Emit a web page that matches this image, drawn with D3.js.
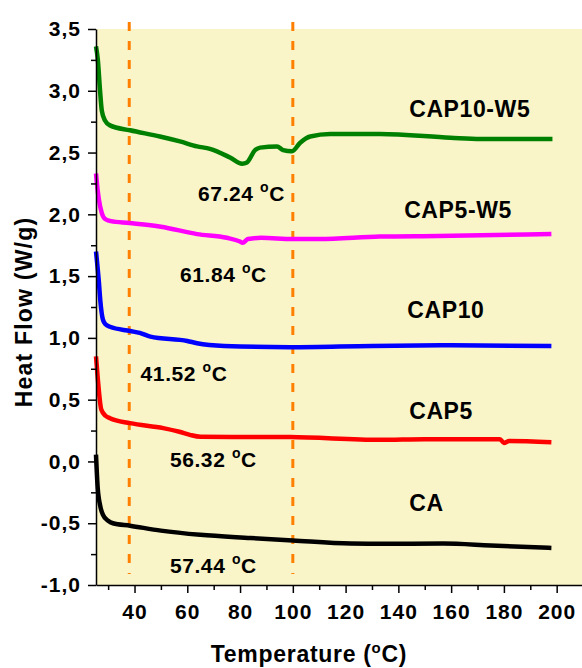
<!DOCTYPE html>
<html>
<head>
<meta charset="utf-8">
<script src="https://cdn.jsdelivr.net/npm/d3@7"></script>
<style>
    body { margin: 0; background: #ffffff; }
    svg { display: block; font-family: "Liberation Sans", Arial, sans-serif; font-weight: bold; }
</style>
</head>
<body>
<svg id="chart" width="582" height="668"></svg>
<script>
//Tick values
let xTicks = [40, 60, 80, 100, 120, 140, 160, 180, 200];
let xMinor = [30, 50, 70, 90, 110, 130, 150, 170, 190];
let yTicks = [-1.0, -0.5, 0.0, 0.5, 1.0, 1.5, 2.0, 2.5, 3.0, 3.5];
let yMinor = [-0.75, -0.25, 0.25, 0.75, 1.25, 1.75, 2.25, 2.75, 3.25];

//Series (temperature in °C, heat flow in W/g)
let caT = [25.4, 26.0, 27.0, 28.0, 30.0, 31.8, 38.3, 50.0, 64.9, 84.0, 100.0, 122.0, 133.0, 157.0, 175.0, 198.0];
let caV = [0.055, -0.20, -0.36, -0.43, -0.48, -0.50, -0.52, -0.56, -0.594, -0.62, -0.64, -0.665, -0.667, -0.665, -0.68, -0.70];

let cap5T = [25.4, 26.0, 27.4, 29.0, 30.7, 38.3, 50.9, 57.0, 61.0, 65.0, 99.0, 133.0, 150.0, 178.5, 180.0, 182.0, 198.0];
let cap5V = [0.85, 0.69, 0.42, 0.37, 0.35, 0.31, 0.27, 0.24, 0.215, 0.20, 0.197, 0.175, 0.18, 0.18, 0.15, 0.165, 0.156];

let cap10T = [25.4, 26.5, 27.0, 28.0, 29.0, 30.7, 38.3, 42.0, 46.0, 60.0, 63.7, 74.0, 99.0, 130.0, 160.0, 198.0];
let cap10V = [1.70, 1.45, 1.31, 1.15, 1.11, 1.09, 1.056, 1.04, 1.01, 0.975, 0.957, 0.935, 0.925, 0.935, 0.94, 0.935];

let cap5w5T = [25.4, 26.0, 26.5, 27.6, 29.0, 31.0, 38.0, 50.0, 63.7, 75.0, 80.0, 81.0, 83.0, 88.0, 100.0, 110.0, 133.0, 155.0, 198.0];
let cap5w5V = [2.33, 2.20, 2.12, 2.01, 1.96, 1.945, 1.93, 1.90, 1.84, 1.81, 1.78, 1.77, 1.80, 1.81, 1.80, 1.80, 1.82, 1.825, 1.84];

let cap10w5T = [25.4, 26.1, 26.9, 27.6, 28.8, 30.7, 38.3, 49.6, 57.2, 63.7, 68.6, 76.2, 80.8, 82.6, 85.7, 87.6, 94.0, 96.3, 99.7, 102.8, 106.6, 114.2, 133.1, 159.7, 171.1, 198.4];
let cap10w5V = [3.36, 3.25, 3.01, 2.84, 2.76, 2.72, 2.68, 2.63, 2.59, 2.55, 2.53, 2.46, 2.41, 2.42, 2.52, 2.54, 2.55, 2.52, 2.51, 2.58, 2.63, 2.65, 2.65, 2.62, 2.61, 2.61];

//Sample names and transition temperatures
let names = ['CA', 'CAP5', 'CAP10', 'CAP5-W5', 'CAP10-W5'];
let tgLabels = ['57.44', '56.32', '41.52', '61.84', '67.24'];
let markerTemps = [38, 100];

//Annotation anchors in data space (°C, W/g)
let nameAnchors = [[144.1, -0.40], [144.1, 0.345], [143.4, 1.162], [142.2, 1.971], [144.1, 2.788]];
let tgAnchors = [[53.4, -0.904], [53.4, -0.049], [42.3, 0.652], [57.2, 1.455], [64.1, 2.111]];

let svg = d3.select('#chart');
let margin = {top: 29, right: 0, bottom: 83, left: 96};
let width = 582;
let height = 668;

let x = d3.scaleLinear()
    .domain([25.4, 209.6])
    .range([margin.left, width - margin.right]);

let y = d3.scaleLinear()
    .domain([-1.0, 3.5])
    .range([height - margin.bottom, margin.top]);

let colors = ['#000000', '#ff0000', '#0000ff', '#ff00ff', '#008000'];

let series = [
    {T: caT, V: caV},
    {T: cap5T, V: cap5V},
    {T: cap10T, V: cap10V},
    {T: cap5w5T, V: cap5w5V},
    {T: cap10w5T, V: cap10w5V}
].map((s, i) => ({name: names[i], color: colors[i], points: s.T.map((t, j) => [t, s.V[j]])}));

//Plot background
svg.append('rect')
    .attr('x', x.range()[0])
    .attr('y', y.range()[1])
    .attr('width', x.range()[1] - x.range()[0])
    .attr('height', y.range()[0] - y.range()[1])
    .attr('fill', '#faf5c9');

//Dashed markers
svg.append('g')
    .selectAll('line')
    .data(markerTemps)
    .join('line')
    .attr('x1', d => x(d))
    .attr('x2', d => x(d))
    .attr('y1', y(3.5) - 7)
    .attr('y2', y(-1.0) - 11)
    .attr('stroke', '#ff8000')
    .attr('stroke-width', 3)
    .attr('stroke-dasharray', '9,10');

//Curves
let line = d3.line()
    .x(d => x(d[0]))
    .y(d => y(d[1]))
    .curve(d3.curveMonotoneX);

svg.append('g')
    .selectAll('path')
    .data(series)
    .join('path')
    .attr('d', d => line(d.points))
    .attr('fill', 'none')
    .attr('stroke', d => d.color)
    .attr('stroke-width', 4.5)
    .attr('stroke-linejoin', 'round');

//Axes
let fmtY = d => d.toFixed(1).replace('.', ',');

svg.append('g')
    .attr('transform', `translate(0,${y(-1.0)})`)
    .call(d3.axisBottom(x).tickValues(xMinor).tickSize(5).tickFormat(''))
    .call(g => g.select('.domain').remove())
    .call(g => g.selectAll('line').attr('stroke-width', 1.5));

svg.append('g')
    .attr('transform', `translate(${x(25.4)},0)`)
    .call(d3.axisLeft(y).tickValues(yMinor).tickSize(5).tickFormat(''))
    .call(g => g.select('.domain').remove())
    .call(g => g.selectAll('line').attr('stroke-width', 1.5));

svg.append('g')
    .attr('transform', `translate(0,${y(-1.0)})`)
    .call(d3.axisBottom(x).tickValues(xTicks).tickSize(8).tickSizeOuter(0).tickPadding(11).tickFormat(d3.format('d')))
    .call(g => g.select('.domain').attr('stroke-width', 1.5))
    .call(g => g.selectAll('line').attr('stroke-width', 1.5))
    .call(g => g.selectAll('text')
        .attr('fill', '#000')
        .attr('font-family', '"Liberation Sans", Arial, sans-serif')
        .attr('font-weight', 'bold')
        .attr('font-size', 21)
        .attr('letter-spacing', 1));

svg.append('g')
    .attr('transform', `translate(${x(25.4)},0)`)
    .call(d3.axisLeft(y).tickValues(yTicks).tickSize(8).tickSizeOuter(0).tickPadding(7).tickFormat(fmtY))
    .call(g => g.select('.domain').attr('stroke-width', 1.5))
    .call(g => g.selectAll('line').attr('stroke-width', 1.5))
    .call(g => g.selectAll('text')
        .attr('fill', '#000')
        .attr('font-family', '"Liberation Sans", Arial, sans-serif')
        .attr('font-weight', 'bold')
        .attr('font-size', 21)
        .attr('letter-spacing', 1));

//Axis titles
let xTitle = svg.append('text')
    .attr('x', 309)
    .attr('y', 662)
    .attr('text-anchor', 'middle')
    .attr('font-size', 23)
    .attr('letter-spacing', 0.7);
xTitle.append('tspan').text('Temperature (');
xTitle.append('tspan').attr('font-size', 15).attr('dy', -9).text('o');
xTitle.append('tspan').attr('dy', 9).text('C)');

svg.append('text')
    .attr('transform', 'translate(32,312) rotate(-90)')
    .attr('text-anchor', 'middle')
    .attr('font-size', 23)
    .attr('letter-spacing', 1.2)
    .text('Heat Flow (W/g)');

//Sample names
svg.append('g')
    .selectAll('text')
    .data(names)
    .join('text')
    .attr('x', (d, i) => x(nameAnchors[i][0]))
    .attr('y', (d, i) => y(nameAnchors[i][1]))
    .attr('font-size', 23)
    .attr('letter-spacing', 0.6)
    .text(d => d);

//Transition temperatures
let tg = svg.append('g')
    .selectAll('text')
    .data(tgLabels)
    .join('text')
    .attr('x', (d, i) => x(tgAnchors[i][0]))
    .attr('y', (d, i) => y(tgAnchors[i][1]))
    .attr('font-size', 21)
    .attr('letter-spacing', 0.6);
tg.append('tspan').text(d => d + ' ');
tg.append('tspan').attr('font-size', 14).attr('dy', -9).text('o');
tg.append('tspan').attr('dy', 9).text('C');
</script>
</body>
</html>
